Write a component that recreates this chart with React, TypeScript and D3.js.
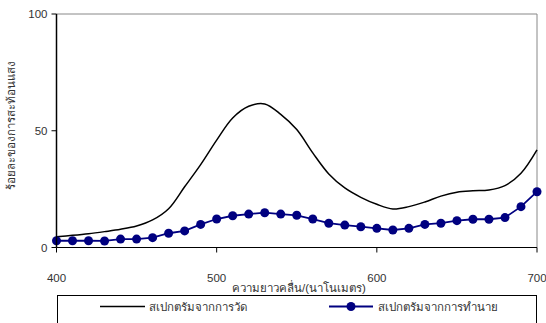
import React from "react";
import * as d3 from "d3";

const wavelengths = [400,410,420,430,440,450,460,470,480,490,500,510,520,530,540,550,560,570,580,590,600,610,620,630,640,650,660,670,680,690,700];
const measured = [4.6,5.2,5.9,6.8,7.8,9.2,11.8,16.6,26,35.5,46,55.5,60.5,61.5,57,50.5,40.5,31.5,25.5,21.5,18.5,16.5,17.5,19.5,22,23.7,24.3,24.6,26.5,31.8,41.8];
const predicted = [2.9,2.9,2.9,2.8,3.6,3.6,4.2,6.1,7.1,9.9,12.2,13.6,14.3,14.9,14.3,13.8,12.2,10.4,9.6,8.9,8.2,7.5,8.2,9.9,10.4,11.5,12.1,12.1,12.8,17.5,23.9];
const xTicks = [400,500,600,700];
const yTicks = [0,50,100];
const xTitle = "ความยาวคลื่น/(นาโนเมตร)";
const yTitle = "ร้อยละของการสะท้อนแสง";
const seriesNames = ["สเปกตรัมจากการวัด","สเปกตรัมจากการทำนาย"];

const FONT = "Arial, 'Liberation Sans', 'Noto Sans', sans-serif";

export default function App() {
  const x = d3.scaleLinear().domain([400, 700]).range([56.5, 537]);
  const y = d3.scaleLinear().domain([0, 100]).range([247.5, 14]);
  const mLine = d3.line<number>().x((_, i) => x(wavelengths[i])).y(d => y(d)).curve(d3.curveCatmullRom.alpha(0.5));
  const pLine = d3.line<number>().x((_, i) => x(wavelengths[i])).y(d => y(d));
  const navy = "#000080";
  return (
    <svg width={546} height={323} style={{ position: "absolute", left: 0, top: 0, background: "#fff" }} fontFamily={FONT}>
      <rect x={0} y={0} width={546} height={323} fill="#fff" />
      {/* frame */}
      <line x1={x(400)} x2={x(700)} y1={y(100)} y2={y(100)} stroke="#888" strokeWidth={1} />
      <line x1={x(700)} x2={x(700)} y1={y(100)} y2={y(0)} stroke="#888" strokeWidth={1} />
      {/* series */}
      <path d={mLine(measured) || ""} fill="none" stroke="#000" strokeWidth={1.5} />
      <path d={pLine(predicted) || ""} fill="none" stroke={navy} strokeWidth={1.8} />
      {predicted.map((v, i) => (
        <circle key={i} cx={x(wavelengths[i])} cy={y(v)} r={4.5} fill={navy} />
      ))}
      {/* axes */}
      <line x1={x(400)} x2={x(400)} y1={y(100)} y2={y(0)} stroke="#000" strokeWidth={1.5} />
      <line x1={x(400)} x2={x(700)} y1={y(0)} y2={y(0)} stroke="#000" strokeWidth={1.2} />
      {yTicks.map(t => (
        <g key={t}>
          <line x1={x(400) - 5} x2={x(400)} y1={y(t)} y2={y(t)} stroke="#000" strokeWidth={1} />
          <text x={x(400) - 9} y={y(t)} dy="0.35em" textAnchor="end" fontSize={11.5} fill="#333">{t}</text>
        </g>
      ))}
      {xTicks.map(t => (
        <g key={t}>
          <line x1={x(t)} x2={x(t)} y1={y(0)} y2={y(0) + 5} stroke="#000" strokeWidth={1} />
          <text x={x(t)} y={278} dy="0.35em" textAnchor="middle" fontSize={11.5} fill="#333">{t}</text>
        </g>
      ))}
      <text x={299} y={288} dy="0.35em" textAnchor="middle" fontSize={11.5} fill="#333">{xTitle}</text>
      <text transform="translate(11,125) rotate(-90)" dy="0.35em" textAnchor="middle" fontSize={11.5} fill="#333">{yTitle}</text>
      {/* legend */}
      <rect x={57.5} y={295.5} width={479} height={40} fill="none" stroke="#000" strokeWidth={1} />
      <line x1={100} x2={145} y1={306.5} y2={306.5} stroke="#000" strokeWidth={1.5} />
      <text x={149} y={306.5} dy="0.35em" fontSize={11.5} fill="#333">{seriesNames[0]}</text>
      <line x1={329} x2={373} y1={306.5} y2={306.5} stroke={navy} strokeWidth={1.8} />
      <circle cx={351} cy={306.5} r={4.5} fill={navy} />
      <text x={378} y={306.5} dy="0.35em" fontSize={11.5} fill="#333">{seriesNames[1]}</text>
    </svg>
  );
}
